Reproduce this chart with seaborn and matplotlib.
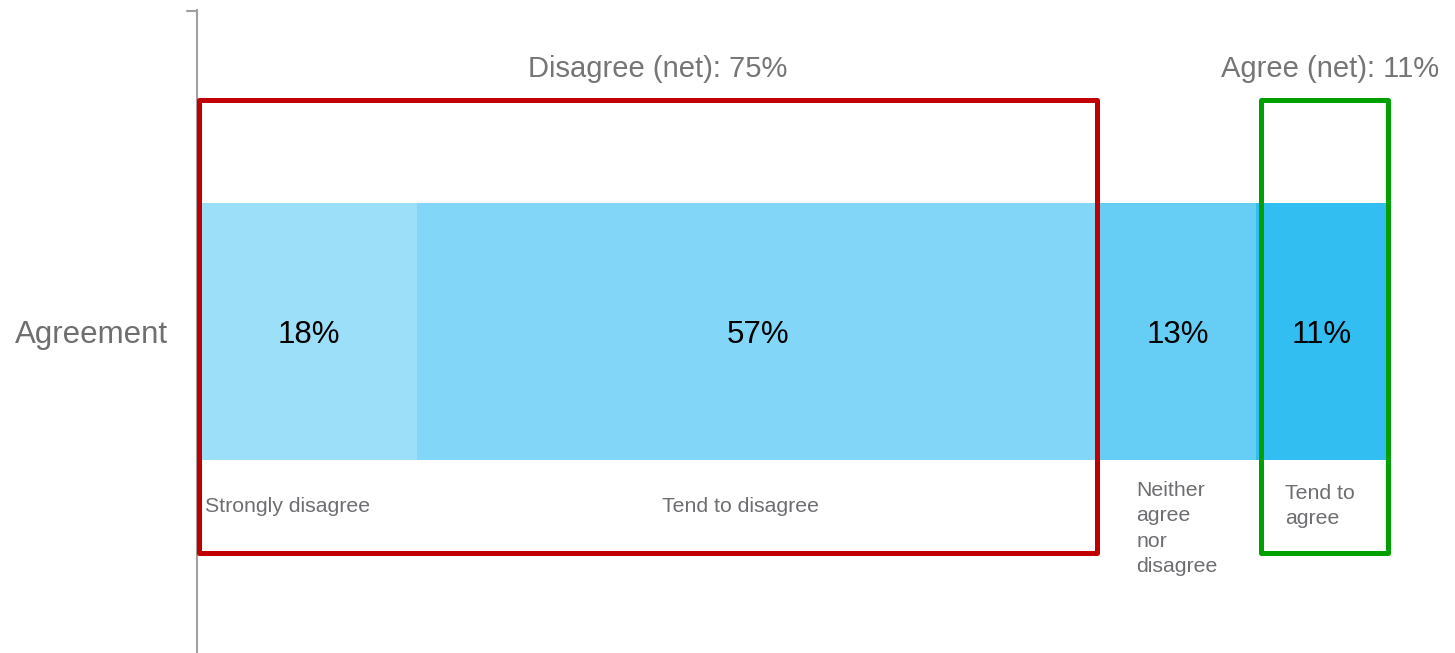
import matplotlib
matplotlib.use("Agg")
import matplotlib.pyplot as plt
from matplotlib.patches import Rectangle
from matplotlib.lines import Line2D
import numpy as np
import seaborn as sns

# ----------------------------------------------
# Data
# ----------------------------------------------

row_label = "Agreement"
segments = ["Strongly disagree", "Tend to disagree", "Neither agree nor disagree", "Tend to agree"]
seg_text = ["Strongly disagree", "Tend to disagree", "Neither\nagree\nnor\ndisagree", "Tend to\nagree"]
values = [18, 57, 13, 11]
colors = ["#9BDFF8", "#82D6F8", "#66CEF5", "#33BEF2"]
net_labels = ["Disagree (net): 75%", "Agree (net): 11%"]
net_ranges = [(0, 2), (3, 4)]  # segment index ranges for the net boxes
net_colors = ["#C00000", "#00A000"]

sns.set_style("white")
plt.rcParams["font.family"] = ["Liberation Sans", "DejaVu Sans"]

W, H = 1455, 653
fig = plt.figure(figsize=(W / 100, H / 100), dpi=100)
ax = fig.add_axes([197 / W, 0, (W - 197) / W, (H - 10) / H])

cum = np.cumsum(values)
starts = cum - np.array(values)

# stacked bar: draw the cumulative bars from longest to shortest
for i in reversed(range(len(values))):
    sns.barplot(x=[cum[i]], y=[row_label], color=colors[i], orient="h",
                width=0.8, saturation=1, linewidth=0, ax=ax)

ax.set_xlim(-0.334, 104.6)
ax.set_ylim(1.0, -1.0)
ax.set_xlabel("")
ax.set_ylabel("")
ax.set_xticks([])

for s in ["top", "right", "bottom"]:
    ax.spines[s].set_visible(False)
ax.spines["left"].set_color("#A0A0A0")
ax.spines["left"].set_linewidth(1.5)
ax.tick_params(axis="y", length=0, pad=21, labelsize=22.5, labelcolor="#6F6F6F")

# small tick at top of the axis line
fig.add_artist(Line2D([187 / W, 197.5 / W], [1 - 10.5 / H] * 2, color="#A0A0A0", lw=1.5))

# percent labels
for st, v in zip(starts, values):
    ax.text(st + v / 2, 0.012, f"{v}%", ha="center", va="center", fontsize=22.5, color="black")

# segment labels under the bar
grey = "#6D6E71"
ax.text(starts[0] + 0.33, 0.543, seg_text[0], ha="left", va="center", fontsize=15.3, color=grey)
ax.text(45.0, 0.543, seg_text[1], ha="center", va="center", fontsize=15.3, color=grey)
ax.text(starts[2] + 3.0, 0.613, seg_text[2], ha="left", va="center", fontsize=15.3, color=grey, linespacing=1.42)
ax.text(starts[3] + 2.4, 0.543, seg_text[3], ha="left", va="center", fontsize=15.3, color=grey, linespacing=1.42)

# net boxes
box_top, box_bot = -0.721, 0.689
net_text_x = [38.06, 94.2]
for (a, b), lab, c, tx in zip(net_ranges, net_labels, net_colors, net_text_x):
    x0 = starts[a] - 0.2 if a == 0 else starts[a] + 0.4
    x1 = cum[b - 1] - 0.3 if a == 0 else cum[b - 1]
    ax.add_patch(Rectangle((x0, box_top), x1 - x0, box_bot - box_top, fill=False,
                           edgecolor=c, linewidth=3.6, joinstyle="round", clip_on=False, zorder=5))
    ax.text(tx, -0.816, lab, ha="center", va="center", fontsize=21, color="#757575")

fig.savefig("out.png", dpi=100)
